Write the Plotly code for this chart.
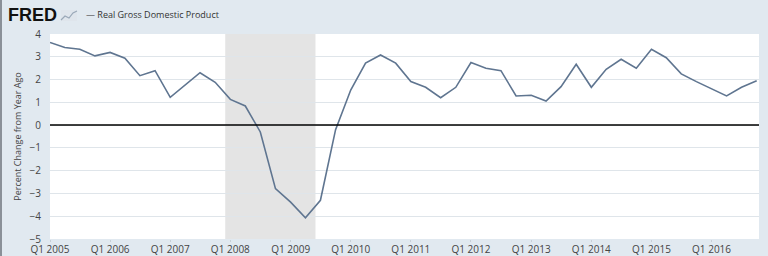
import plotly.graph_objects as go

quarters = [f"{y}-{m:02d}-01" for y in range(2005, 2017) for m in (1, 4, 7, 10)]
gdp_pct = [
    3.63, 3.41, 3.33, 3.04,
    3.19, 2.94, 2.17, 2.39,
    1.22, 1.76, 2.30, 1.88,
    1.13, 0.84, -0.30, -2.79,
    -3.38, -4.07, -3.30, -0.20,
    1.54, 2.72, 3.08, 2.72,
    1.91, 1.66, 1.20, 1.66,
    2.75, 2.50, 2.39, 1.28,
    1.31, 1.06, 1.69, 2.67,
    1.66, 2.45, 2.89, 2.50,
    3.33, 2.96, 2.25, 1.91,
    1.59, 1.28, 1.66, 1.95,
]
tick_years = list(range(2005, 2017))
tick_vals = [f"{y}-01-01" for y in tick_years]
tick_text = [f"Q1 {y}" for y in tick_years]
y_ticks = [4, 3, 2, 1, 0, -1, -2, -3, -4, -5]
recession = ("2007-12-01", "2009-06-01")

L, R, T, B = 50, 9, 34, 17
W, H = 768, 256
PW, PH = W - L - R, H - T - B


def px(xpix):
    return (xpix - L) / PW


def py(ypix):
    return (H - B - ypix) / PH


fig = go.Figure()
fig.add_trace(go.Scatter(
    x=quarters, y=gdp_pct, mode="lines",
    line=dict(color="#5f7590", width=1.6),
    name="Real Gross Domestic Product", showlegend=False,
))

fig.add_shape(type="rect", xref="x", yref="paper",
              x0=recession[0], x1=recession[1], y0=0, y1=1,
              fillcolor="#e4e4e4", line=dict(width=0), layer="below")
fig.add_shape(type="line", xref="paper", yref="y", x0=0, x1=1, y0=0, y1=0,
              line=dict(color="#000000", width=1.5))
# left frame edge
fig.add_shape(type="line", xref="paper", yref="paper", x0=px(1), x1=px(1),
              y0=py(256), y1=py(0), line=dict(color="#8a9098", width=2))
# small FRED logo glyph
fig.add_shape(type="rect", xref="paper", yref="paper", x0=px(61), x1=px(77),
              y0=py(21), y1=py(10), fillcolor="#dfe5ec", line=dict(width=0))
fig.add_shape(type="path", xref="paper", yref="paper",
              path=(f"M {px(61)},{py(20)} L {px(65)},{py(16)} L {px(69)},{py(18)} "
                    f"L {px(73)},{py(13)} L {px(77)},{py(11)}"),
              line=dict(color="#9aa8b8", width=1.2))

fig.update_layout(
    width=W, height=H,
    margin=dict(l=L, r=R, t=T, b=B),
    paper_bgcolor="#e1e9f0",
    plot_bgcolor="#ffffff",
    font=dict(family="Open Sans", size=10, color="#444444"),
    xaxis=dict(
        type="date", automargin=False,
        range=["2005-01-01", "2016-10-15"],
        tickvals=tick_vals, ticktext=tick_text,
        showgrid=False, zeroline=False, showline=False,
        ticks="outside", ticklen=2, tickcolor="#c8d0d8",
        ticklabelstandoff=-1,
        tickfont=dict(size=10, color="#444444"),
    ),
    yaxis=dict(
        range=[-5, 4], tickvals=y_ticks, automargin=False,
        showgrid=True, gridcolor="#dfe5ea", gridwidth=1,
        zeroline=False, showline=False,
        ticklabelstandoff=8,
        tickfont=dict(size=10, color="#444444"),
        title=dict(text="Percent Change from Year Ago",
                   font=dict(size=9, color="#444444"), standoff=6),
    ),
    annotations=[
        dict(text="<b>FRED</b>", xref="paper", yref="paper", x=px(6), y=py(15),
             xanchor="left", yanchor="middle", showarrow=False,
             font=dict(family="Liberation Sans", size=18, color="#111111")),
        dict(text="\u2014 Real Gross Domestic Product", xref="paper", yref="paper",
             x=px(84), y=py(15), xanchor="left", yanchor="middle", showarrow=False,
             font=dict(size=9, color="#333333")),
    ],
)

fig.write_html("out.html")
